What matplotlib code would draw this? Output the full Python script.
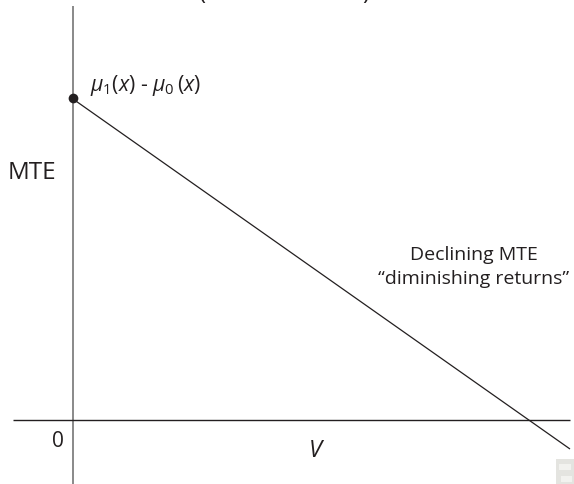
import matplotlib
matplotlib.use("Agg")
import matplotlib.pyplot as plt
from matplotlib.patches import Rectangle

W, H = 574, 485
plt.rcParams['font.family'] = ['Open Sans', 'DejaVu Sans']
plt.rcParams['mathtext.fontset'] = 'custom'
plt.rcParams['mathtext.it'] = 'Open Sans:italic'
plt.rcParams['mathtext.rm'] = 'Open Sans'

INK = "#231f20"
line_v = [73, 570]
line_mte = [H - 100, H - 450]
point_v = [73]
point_mte = [H - 99]
xaxis_x = [13, 570]
xaxis_y = [H - 421, H - 421]
labels = ["MTE", "0", "V", "Declining MTE\n\u201cdiminishing returns\u201d"]

fig = plt.figure(figsize=(W / 100, H / 100), dpi=100)
ax = fig.add_axes([0, 0, 1, 1])
ax.set_xlim(0, W)
ax.set_ylim(0, H)
ax.axis("off")

ax.plot([73, 73], [-5, H - 7], color="#808080", lw=1.3, solid_capstyle="butt")
ax.plot(xaxis_x, xaxis_y, color=INK, lw=1.0, solid_capstyle="butt")
ax.plot(line_v, line_mte, color=INK, lw=0.9, solid_capstyle="butt")
ax.plot(point_v, point_mte, "o", color=INK, ms=7, mec="none")

ax.text(8, H - 173, labels[0], fontsize=17.5, color=INK, va="center", ha="left")
ax.text(58, H - 442, labels[1], fontsize=15, color=INK, va="center", ha="center")
ax.text(315, H - 451, labels[2], fontsize=17, style="italic", color=INK, va="center", ha="center")
ax.text(474, H - 267, labels[3], fontsize=14, color=INK, va="center", ha="center", linespacing=1.45)
ax.text(90, H - 86, r"$\mu_{1}(x)$ - $\mu_{0}\,(x)$", fontsize=15.3, color=INK, va="center", ha="left")
ax.text(203, H + 7, "(", fontsize=17, color=INK, va="center", ha="center")
ax.text(366, H + 7, ")", fontsize=17, color=INK, va="center", ha="center")
ax.add_patch(Rectangle((556, -2), 20, 27, color="#e4e4e0", lw=0))
ax.add_patch(Rectangle((559, 14), 12, 6, color="#f2f2ef", lw=0))
ax.add_patch(Rectangle((561, 2), 11, 6, color="#f2f2ef", lw=0))
fig.savefig("out.png", dpi=100)
